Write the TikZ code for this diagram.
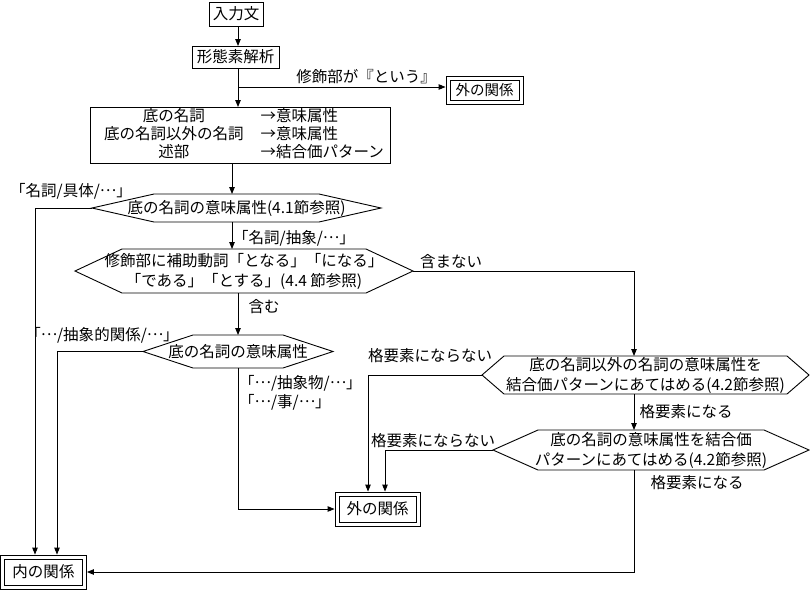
\documentclass[tikz,border=0pt]{standalone}
\usepackage{fontspec}
\setmainfont{Noto Sans CJK JP}
\usetikzlibrary{arrows.meta,calc}
\newcommand{\myfs}{\fontsize{15.5}{16.5}\selectfont}
\newcommand{\myhexfs}{\fontsize{15.5}{20}\selectfont}
\newcommand{\myoutfs}{\fontsize{14.5}{16}\selectfont}
\newcommand{\mdots}{\raisebox{0.33em}{…}}
\tikzset{
  box/.style={draw, line width=0.9pt, inner sep=0pt, outer sep=0pt, font=\myfs},
  dbox/.style={draw, line width=0.9pt, inner sep=0pt, outer sep=4.45pt, font=\myfs},
  hexbox/.style={inner sep=0pt, outer sep=0pt, align=center, font=\myhexfs},
  hexline/.style={line width=0.9pt, line join=miter},
  lbl/.style={inner sep=0pt, font=\myfs},
  arr/.style={line width=0.9pt, -{Triangle[length=7pt,width=5.5pt]}},
}
\newcommand{\hexnode}[6]{%
  \node[hexbox, minimum width=#3, minimum height=#4] (#1) at #2 {#6};
  \draw[hexline] (#1.west) -- ([xshift=#5]#1.north west) -- ([xshift=-#5]#1.north east) -- (#1.east) -- ([xshift=-#5]#1.south east) -- ([xshift=#5]#1.south west) -- cycle;
}
\newcommand{\outerframe}[1]{%
  \draw[line width=0.9pt] ([shift={(0.45pt,-0.45pt)}]#1.north west) rectangle ([shift={(-0.45pt,0.45pt)}]#1.south east);
}
\begin{document}
\begin{tikzpicture}[x=1pt,y=-1pt]
\useasboundingbox (0,0) rectangle (810,590);
% boxes
\node[box, minimum width=54pt, minimum height=24pt] (inp) at (236,14) {入力文};
\node[box, minimum width=87pt, minimum height=22pt] (mor) at (235.5,57) {形態素解析};
\node[dbox, minimum width=69pt, minimum height=20pt, font=\myoutfs] (out1) at (484.5,90) {外の関係};
\outerframe{out1}
\node[box, minimum width=300pt, minimum height=56pt] (big) at (240,135) {\hspace*{8pt}\begin{tabular}{@{}c@{\hspace{17pt}}l@{}}底の名詞 & →意味属性\\ 底の名詞以外の名詞 & →意味属性\\ 述部 & →結合価パターン\end{tabular}};
\node[dbox, minimum width=77pt, minimum height=26pt] (out2) at (377.5,509) {外の関係};
\outerframe{out2}
\node[dbox, minimum width=78pt, minimum height=26pt] (nai) at (43.5,572) {内の関係};
\outerframe{nai}
% hexagons
\hexnode{h1}{(236.5,208)}{289pt}{28pt}{62pt}{底の名詞の意味属性(4.1節参照)}
\hexnode{h2}{(244,271)}{338pt}{44pt}{47pt}{修飾部に補助動詞「となる」「になる」\\「である」「とする」(4.4 節参照)}
\hexnode{h3}{(238,351.5)}{190pt}{33pt}{50pt}{底の名詞の意味属性}
\hexnode{h4}{(645.5,375)}{327pt}{38pt}{22pt}{底の名詞以外の名詞の意味属性を\\結合価パターンにあてはめる(4.2節参照)}
\hexnode{h5}{(651,450)}{316pt}{40pt}{45pt}{底の名詞の意味属性を結合価\\パターンにあてはめる(4.2節参照)}
% labels
\node[lbl] (l1) at (366,77) {修飾部が『という』};
\node[lbl] (l2) at (71,191) {「名詞/具体/\mdots」};
\node[lbl, anchor=west] (l3) at (233,238) {「名詞/抽象/\mdots」};
\node[lbl] (l4) at (451,262) {含まない};
\node[lbl] (l5) at (264,307) {含む};
\node[lbl] (l6) at (102,335) {「\mdots/抽象的関係/\mdots」};
\node[lbl, anchor=west] (l7) at (239,383) {「\mdots/抽象物/\mdots」};
\node[lbl, anchor=west] (l8) at (239,402) {「\mdots/事/\mdots」};
\node[lbl] (l9) at (430,356) {格要素にならない};
\node[lbl] (l10) at (686,412) {格要素になる};
\node[lbl] (l11) at (433,441) {格要素にならない};
\node[lbl] (l12) at (697,483) {格要素になる};
% lanes
\coordinate (sp) at (238,0);
\coordinate (sp2) at (232,0);
\coordinate (sp3) at (634,0);
\coordinate (la) at (35,0);
\coordinate (lb) at (57,0);
\coordinate (lc) at (368,0);
\coordinate (ld) at (385,0);
\coordinate (br) at (238,87);
% connectors
\draw[arr] (inp.south -| sp) -- (mor.north -| sp);
\draw[arr] (mor.south -| sp) -- (big.north -| sp);
\draw[arr] (br) -- (br -| out1.west);
\draw[arr] (big.south -| sp2) -- (h1.north -| sp2);
\draw[arr] (h1.south -| sp2) -- (h2.north -| sp2);
\draw[arr] (h1.west) -| (nai.north -| la);
\draw[arr] (h2.east) -| (h4.north -| sp3);
\draw[arr] (h2.south -| sp) -- (h3.north -| sp);
\draw[arr] (h3.west) -| (nai.north -| lb);
\draw[arr] (h3.south -| sp) |- (out2.west);
\draw[arr] (h4.west) -| (out2.north -| lc);
\draw[arr] (h4.south -| sp3) -- (h5.north -| sp3);
\draw[arr] (h5.west) -| (out2.north -| ld);
\draw[arr] (h5.south -| sp3) |- (nai.east);
\end{tikzpicture}
\end{document}
